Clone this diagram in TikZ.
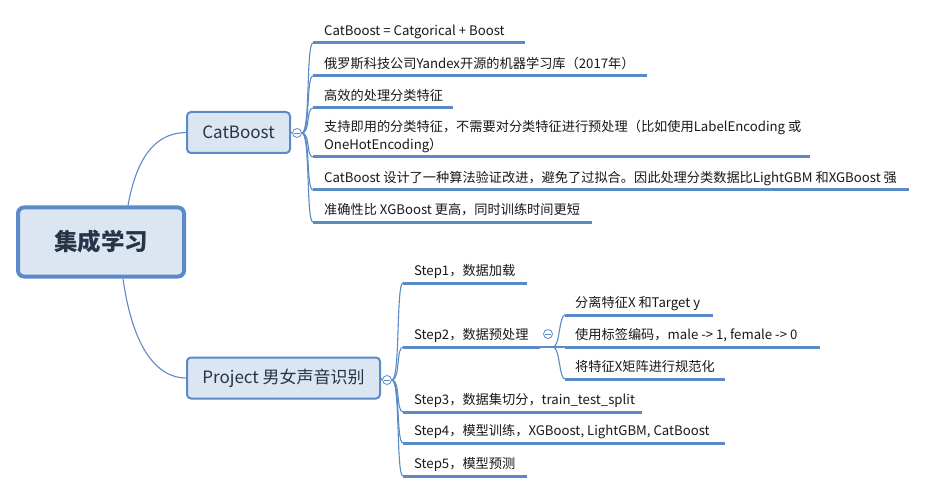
\documentclass[tikz,border=0pt]{standalone}
\usepackage{fontspec}
\setmainfont{Noto Sans CJK SC}
\definecolor{lineblue}{RGB}{91,138,200}
\definecolor{nodefill}{RGB}{220,230,242}
\definecolor{nodetext}{RGB}{38,52,72}
\definecolor{itemtext}{RGB}{25,25,25}
\newcommand\itemtext[3]{\makebox[#1][l]{\hspace{#2}#3}}
\tikzset{
  rootbox/.style={draw=lineblue, fill=nodefill, line width=4pt, rounded corners=6pt,
    minimum width=166pt, minimum height=69pt, inner sep=0, text=nodetext,
    font=\fontsize{23.5}{28}\selectfont\bfseries},
  topicbox/.style={draw=lineblue, fill=nodefill, line width=2pt, rounded corners=4pt,
    minimum height=41pt, inner sep=0, text=nodetext, font=\fontsize{17}{20}\selectfont},
  itemnode/.style={anchor=south west, inner sep=0, text depth=7pt, text=itemtext,
    font=\fontsize{13.2}{18}\selectfont},
  uline/.style={draw=lineblue, line width=3pt},
  branch/.style={draw=lineblue, line width=1.1pt},
  collapse/.style={circle, draw=lineblue, fill=white, line width=0.8pt, minimum size=9pt, inner sep=0},
  minus/.style={draw=lineblue, line width=0.8pt}
}
\begin{document}
\begin{tikzpicture}[x=1pt,y=-1pt]
\useasboundingbox[fill=white] (0,0) rectangle (927,492);

% main nodes
\node[rootbox] (root) at (101,242) {集成学习};
\node[topicbox, minimum width=103pt] (cat) at (238.5,132.5) {CatBoost};
\node[topicbox, minimum width=193pt] (proj) at (283.5,378) {Project 男女声音识别};

% collapse circles
\node[collapse] (cc) at (297,133) {};
\node[collapse] (pc) at (387,380) {};
\node[collapse] (sc) at (548,334) {};
\foreach \c in {cc,pc,sc}{
  \draw[minus] ([xshift=-2.6pt]\c.center) -- ([xshift=2.6pt]\c.center);
}

% root connectors
\draw[branch] ([xshift=27pt]root.north) .. controls (138,150) and (160,133) .. (cat.west);
\draw[branch] ([xshift=22pt]root.south) .. controls (133,350) and (158,378) .. (proj.west);
\draw[branch] (cat.east) -- (cc.west);
\draw[branch] (proj.east) -- (pc.west);

% CatBoost items
\node[itemnode] (c1) at (313,43) {\itemtext{212pt}{11pt}{CatBoost = Catgorical + Boost}};
\node[itemnode] (c2) at (313,76) {\itemtext{334pt}{11pt}{俄罗斯科技公司Yandex开源的机器学习库（2017年）}};
\node[itemnode] (c3) at (313,108) {\itemtext{140pt}{11pt}{高效的处理分类特征}};
\node[itemnode] (c4) at (313,157) {\itemtext{497pt}{11pt}{\parbox[b]{600pt}{\baselineskip=18pt 支持即用的分类特征，不需要对分类特征进行预处理（比如使用LabelEncoding 或\\OneHotEncoding）}}};
\node[itemnode] (c5) at (313,190) {\itemtext{596pt}{11pt}{CatBoost 设计了一种算法验证改进，避免了过拟合。因此处理分类数据比LightGBM 和XGBoost 强}};
\node[itemnode] (c6) at (313,222) {\itemtext{279pt}{11pt}{准确性比 XGBoost 更高，同时训练时间更短}};
\foreach \n in {c1,c2,c3,c4,c5,c6}{
  \draw[uline] (\n.south west) -- (\n.south east);
  \draw[branch] (cc.east) .. controls +(8.5,0) and +(-7,0) .. (\n.south west);
}

% Project items
\node[itemnode] (s1) at (403,283) {\itemtext{124pt}{11pt}{Step1，数据加载}};
\node[itemnode] (s2) at (403,347) {\itemtext{137pt}{11pt}{Step2，数据预处理}};
\node[itemnode] (s3) at (403,412) {\itemtext{239pt}{11pt}{Step3，数据集切分，train\_test\_split}};
\node[itemnode] (s4) at (403,443) {\itemtext{322pt}{11pt}{Step4，模型训练，XGBoost, LightGBM, CatBoost}};
\node[itemnode] (s5) at (403,476) {\itemtext{124pt}{11pt}{Step5，模型预测}};
\foreach \n in {s1,s2,s3,s4,s5}{
  \draw[uline] (\n.south west) -- (\n.south east);
  \draw[branch] (pc.east) .. controls +(8.5,0) and +(-7,0) .. (\n.south west);
}

% Step2 sub items
\node[itemnode] (t1) at (565,315) {\itemtext{148pt}{10pt}{分离特征X 和Target y}};
\node[itemnode] (t2) at (565,347) {\itemtext{255pt}{10pt}{使用标签编码，male -> 1, female -> 0}};
\node[itemnode] (t3) at (565,379) {\itemtext{160pt}{10pt}{将特征X矩阵进行规范化}};
\coordinate (sj) at (553,347);
\draw[branch] (s2.south east) -- (sj);
\foreach \n in {t1,t2,t3}{
  \draw[uline] (\n.south west) -- (\n.south east);
  \draw[branch] (sj) .. controls +(7,0) and +(-6,0) .. (\n.south west);
}
\end{tikzpicture}
\end{document}
